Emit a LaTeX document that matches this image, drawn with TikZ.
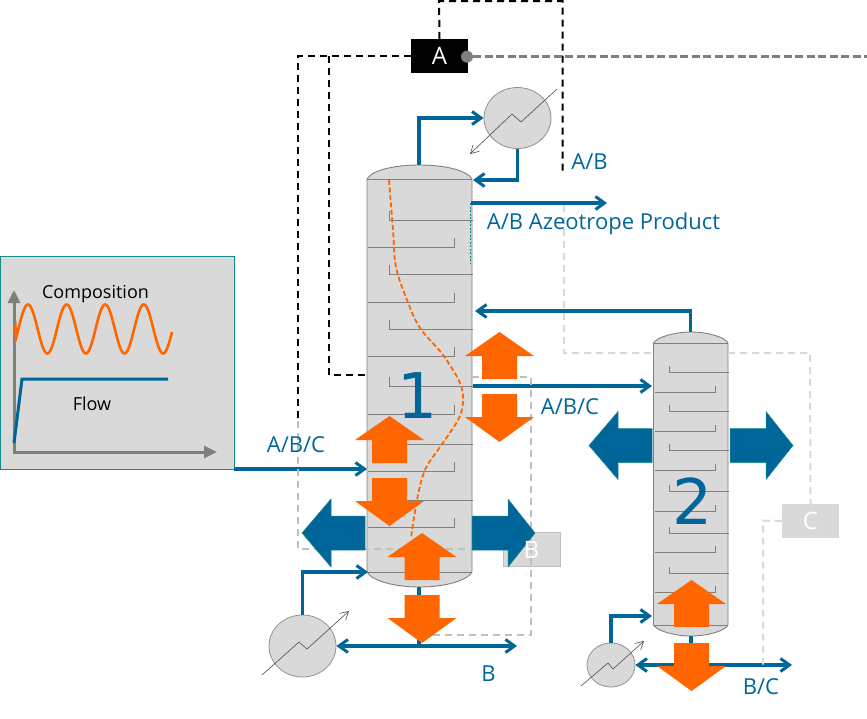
\documentclass[tikz,border=0pt]{standalone}
\usepackage{fontspec}
\setmainfont{Open Sans}
\newfontfamily\numfont{DejaVu Sans}
\usetikzlibrary{arrows.meta,shapes.geometric}
\definecolor{pblue}{RGB}{0,102,153}
\definecolor{porange}{RGB}{255,102,0}
\definecolor{pgray}{RGB}{217,217,217}
\definecolor{pline}{RGB}{127,127,127}
\definecolor{pdash}{RGB}{191,191,191}
\definecolor{pteal}{RGB}{20,140,140}
\tikzset{
  stream/.style={draw=pblue,line width=3.2pt,line join=miter},
  feedarrow/.style={stream,-{Straight Barb[length=9pt,width=13pt,line width=3pt]}},
  shell/.style={draw=pline,fill=pgray,line width=0.9pt},
  tray/.style={draw=pline,line width=0.9pt},
  blackdash/.style={draw=black,line width=2pt,dash pattern=on 7pt off 5pt},
  lightdash/.style={draw=pdash,line width=2pt,dash pattern=on 7pt off 5pt},
  paledash/.style={draw=pgray,line width=2pt,dash pattern=on 7pt off 5pt},
  greydash/.style={draw=pline,line width=2.8pt,dash pattern=on 8pt off 3.5pt},
  hxbody/.style={shape=ellipse,draw=pline!85!white,fill=pgray,line width=0.8pt,inner sep=0pt},
  hxline/.style={draw=black!70,line width=0.6pt,-{Straight Barb[length=8pt,width=9pt,line width=0.6pt]}},
  bigorange/.style={fill=porange},
  bigblue/.style={fill=pblue,draw=pteal,line width=0.5pt},
  flowlabel/.style={text=pblue,inner sep=0pt,font=\fontsize{22}{25}\selectfont},
  bignum/.style={text=pblue,inner sep=0pt,font=\numfont\fontsize{63}{70}\selectfont},
  analyzer/.style={minimum width=57pt,minimum height=34pt,inner sep=0pt,text=white,font=\fontsize{24}{28}\selectfont},
  plotlabel/.style={text=black,inner sep=0pt,font=\fontsize{18}{21}\selectfont}
}
\newcommand{\orangeup}[2]{\path[bigorange] (#1,#2) -- (#1+34.5,#2+24) -- (#1+17.5,#2+24) -- (#1+17.5,#2+47) -- (#1-17.5,#2+47) -- (#1-17.5,#2+24) -- (#1-34.5,#2+24) -- cycle;}
\newcommand{\orangedown}[2]{\path[bigorange] (#1,#2+48) -- (#1+34.5,#2+23) -- (#1+17.5,#2+23) -- (#1+17.5,#2) -- (#1-17.5,#2) -- (#1-17.5,#2+23) -- (#1-34.5,#2+23) -- cycle;}
\newcommand{\blueleft}[3]{\path[bigblue] (#1,#3) -- (#1+29,#3-34) -- (#1+29,#3-17) -- (#2,#3-17) -- (#2,#3+17) -- (#1+29,#3+17) -- (#1+29,#3+34) -- cycle;}
\newcommand{\blueright}[3]{\path[bigblue] (#2,#3) -- (#2-27,#3-34) -- (#2-27,#3-17) -- (#1,#3-17) -- (#1,#3+17) -- (#2-27,#3+17) -- (#2-27,#3+34) -- cycle;}
\begin{document}
\begin{tikzpicture}[x=1pt,y=-1pt]
\useasboundingbox (0,0) rectangle (867,718);
% inset panel
\path[fill=pgray,draw=pteal,line width=0.9pt] (0.5,256.5) rectangle (234,469);
\draw[pline,line width=3pt,-{Triangle[length=13pt,width=12pt]}] (14,452) -- (14,290);
\draw[pline,line width=3pt,-{Triangle[length=13pt,width=12pt]}] (13,452) -- (217,452);
\draw[porange,line width=2.6pt] (14,333) -- (15.5,328) -- plot[domain=16:172,samples=160] (\x,{329-24.5*cos(9.3264*(\x-28))});
\draw[pblue,line width=3pt] (14,443) -- (22,379) -- (168,379);
\node[plotlabel] (comp) at (95.5,294) {Composition};
\node[plotlabel] (flow) at (92,404) {Flow};
% column 1
\path[shell] (367,179) .. controls (372,170) and (395,165) .. (419.5,165) .. controls (444,165) and (467,170) .. (472,179) -- (472,572) .. controls (467,581) and (444,587) .. (419.5,587) .. controls (395,587) and (372,581) .. (367,572) -- cycle;
\draw[tray] (367,179) -- (472,179) (367,572) -- (472,572);
\foreach \y in {247,302,356,414,471,527} \draw[tray] (368,\y) -- (454,\y) -- (454,\y-9);
\foreach \y in {220,274,329,386,444,500} \draw[tray] (389,\y-9) -- (389,\y) -- (473,\y);
\draw[pteal,line width=0.7pt,dash pattern=on 2pt off 1.5pt] (470,203) -- (470,263);
\draw[porange,line width=1.8pt,dash pattern=on 5pt off 2.5pt] plot[smooth,tension=0.6] coordinates {(389,180) (393,230) (396,267) (407,300) (420,328) (443,355) (460,383) (463,402) (458,420) (440,447) (425,470) (417,500) (411,538)};
% column 2
\path[shell] (653.5,343) .. controls (657,337) and (675,332) .. (691,332) .. controls (707,332) and (725,337) .. (728,343) -- (728,625) .. controls (725,631) and (707,636) .. (691,636) .. controls (675,636) and (657,631) .. (653.5,625) -- cycle;
\draw[tray] (653.5,343) -- (728,343) (653.5,625) -- (728,625);
\foreach \y in {392,431,470,511,552,592} \draw[tray] (655,\y) -- (715.5,\y) -- (715.5,\y-6);
\foreach \y in {372,411,450,491,533,573} \draw[tray] (669.5,\y-6) -- (669.5,\y) -- (729,\y);
% exchangers
\node[hxbody,minimum width=67pt,minimum height=61pt] (cond) at (517.5,118) {};
\node[hxbody,minimum width=67pt,minimum height=62pt] (reb1) at (302.5,646) {};
\node[hxbody,minimum width=48pt,minimum height=44pt] (reb2) at (611,665) {};
\draw[hxline] (557,89) -- (521,122) -- (512,114) -- (470,154);
\draw[hxline] (262,675) -- (299,642) -- (307,649) -- (349,611);
\draw[hxline] (581,686) -- (608,663) -- (613,669) -- (644,641);
% ports
\coordinate (c1top) at (419,165);
\coordinate (c1bot) at (419,587);
\coordinate (c2top) at (690.5,332);
\coordinate (c2bot) at (691,636);
\coordinate (refl) at (473,180);
\coordinate (prod) at (607,203);
\coordinate (prods) at (471,203);
\coordinate (rec) at (475,311);
\coordinate (out1) at (473,386);
\coordinate (in2) at (652,386);
\coordinate (panelport) at (234,469);
\coordinate (in1) at (367,469);
\coordinate (blend1) at (419,646);
\coordinate (bout) at (517,646);
\coordinate (reb1in) at (368,572);
\coordinate (blend2) at (691,665);
\coordinate (bcout) at (792,665);
\coordinate (reb2in) at (652,616);
% streams
\draw[feedarrow] (c1top) |- (cond.west);
\draw[feedarrow] (cond.south) |- (refl);
\draw[feedarrow] (prods) -- (prod);
\draw[feedarrow] (c2top) |- (rec);
\draw[feedarrow] (out1) -- (in2);
\draw[feedarrow] (panelport) -- (in1);
\draw[stream] (c1bot) -- (blend1);
\draw[feedarrow] (blend1) -- (reb1.east);
\draw[feedarrow] (blend1) -- (bout);
\draw[feedarrow] (reb1.north) |- (reb1in);
\draw[stream] (c2bot) -- (blend2);
\draw[feedarrow] (blend2) -- (reb2.east);
\draw[feedarrow] (blend2) -- (bcout);
\draw[feedarrow] (reb2.north) |- (reb2in);
% analyzer boxes
\node[analyzer,fill=black] (A) at (439.5,56) {};
\node[analyzer,fill=pgray,draw=pdash,line width=0.6pt] (B) at (531.5,549.5) {};
\node[analyzer,fill=pgray] (C) at (810.5,521) {};
% sampling lines
\coordinate (p1) at (439,1);
\coordinate (p2) at (562.5,1);
\coordinate (p3) at (562.5,171);
\coordinate (p4) at (298,56);
\coordinate (p5) at (298,421);
\coordinate (p6) at (298,549);
\coordinate (p7) at (329,56);
\coordinate (p8) at (329,375);
\coordinate (p9) at (366,375);
\draw[blackdash] (A.north) -- (p1) -- (p2) -- (p3);
\draw[blackdash] (A.west) -- (p4) -- (p5);
\draw[blackdash] (p7) -- (p8) -- (p9);
\draw[lightdash] (p5) -- (p6) -- (B.west |- p6);
\draw[lightdash] (472,377) -- (531,377) -- (531,635) -- (423,635);
\draw[paledash] (564,205) -- (564,353) -- (810,353) -- (C.north);
\draw[paledash] (C.west) -- (763,520.5) -- (763,665);
\node[circle,fill=pline,inner sep=0pt,minimum size=12pt] (dot) at (467,56.7) {};
\coordinate (gout) at (867,56.7);
\draw[greydash] (dot.east) -- (gout);
% large arrows
\orangeup{499.5}{332}
\orangedown{499.5}{394}
\orangeup{389.5}{416}
\orangedown{389.5}{478}
\orangeup{422}{533}
\orangedown{422}{595}
\blueleft{302}{365}{533}
\blueright{472}{535}{533}
\blueleft{589}{652}{445.5}
\blueright{730}{793}{445.5}
\orangeup{691.5}{580}
\orangedown{691.5}{643}
% texts
\node[text=white,inner sep=0pt,font=\fontsize{24}{28}\selectfont] (Atext) at (A) {A};
\node[text=white,inner sep=0pt,font=\fontsize{24}{28}\selectfont] (Btext) at (B) {B};
\node[text=white,inner sep=0pt,font=\fontsize{24}{28}\selectfont] (Ctext) at (C) {C};
\node[flowlabel] (l1) at (589.5,162) {A/B};
\node[flowlabel] (l2) at (603.5,224) {A/B Azeotrope Product};
\node[flowlabel] (l3) at (296,445) {A/B/C};
\node[flowlabel] (l4) at (570,407) {A/B/C};
\node[flowlabel] (l5) at (488.5,674) {B};
\node[flowlabel] (l6) at (761,687) {B/C};
\node[bignum] (n1) at (417.5,396) {1};
\node[bignum] (n2) at (693,501) {2};
\end{tikzpicture}
\end{document}
